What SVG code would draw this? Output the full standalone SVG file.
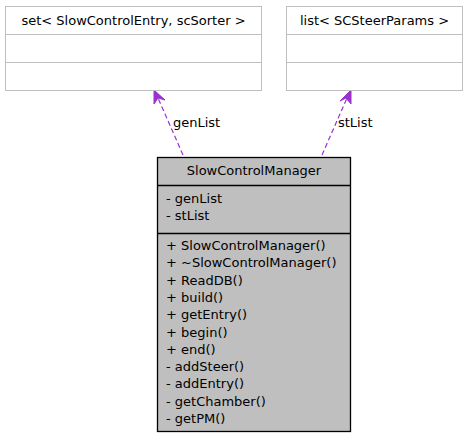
<svg xmlns="http://www.w3.org/2000/svg" width="467" height="437" viewBox="0 0 467 437">
<style>
text{font-family:"DejaVu Sans",sans-serif;font-size:13px;fill:#000}
.ext rect{fill:#fff;stroke:#bfbfbf;stroke-width:1}
.ext line{stroke:#bfbfbf;stroke-width:1}
.main rect{fill:#bfbfbf;stroke:#000;stroke-width:1.3}
.main line{stroke:#000;stroke-width:1.3}
.edge{stroke:#9a32cd;stroke-width:1.2;fill:none;stroke-dasharray:5,3}
.head{stroke:#9a32cd;stroke-width:1;fill:#9a32cd;stroke-linejoin:miter}
</style>
<rect width="467" height="437" fill="#fff"/>
<g id="connectors">
<path class="edge" d="M183,155 L158,98"/>
<polygon class="head" points="154,90 154,104 158,98 165,100"/>
<path class="edge" d="M322,155 L347,98"/>
<polygon class="head" points="351,90 340,101 346,98 351,104"/>
<text x="173" y="127">genList</text>
<text x="338" y="127">stList</text>
</g>
<g id="set" class="ext">
<rect x="5.5" y="6.5" width="256" height="84"/>
<line x1="5.5" y1="34.5" x2="261.5" y2="34.5"/>
<line x1="5.5" y1="62.5" x2="261.5" y2="62.5"/>
<text x="133.5" y="25" text-anchor="middle">set&lt; SlowControlEntry, scSorter &gt;</text>
</g>
<g id="list" class="ext">
<rect x="286.5" y="6.5" width="176" height="84"/>
<line x1="286.5" y1="34.5" x2="462.5" y2="34.5"/>
<line x1="286.5" y1="62.5" x2="462.5" y2="62.5"/>
<text x="374.5" y="25" text-anchor="middle">list&lt; SCSteerParams &gt;</text>
</g>
<g id="SlowControlManager" class="main">
<rect x="157.5" y="157.5" width="193" height="274"/>
<line x1="157.5" y1="185.5" x2="350.5" y2="185.5"/>
<line x1="157.5" y1="233.5" x2="350.5" y2="233.5"/>
<text x="254" y="175" text-anchor="middle">SlowControlManager</text>
<text x="166" y="203">- genList</text>
<text x="166" y="220">- stList</text>
<text x="166" y="250">+ SlowControlManager()</text>
<text x="166" y="267.3">+ ~SlowControlManager()</text>
<text x="166" y="284.6">+ ReadDB()</text>
<text x="166" y="301.9">+ build()</text>
<text x="166" y="319.2">+ getEntry()</text>
<text x="166" y="336.5">+ begin()</text>
<text x="166" y="353.8">+ end()</text>
<text x="166" y="371.1">- addSteer()</text>
<text x="166" y="388.4">- addEntry()</text>
<text x="166" y="405.7">- getChamber()</text>
<text x="166" y="423">- getPM()</text>
</g>
</svg>
